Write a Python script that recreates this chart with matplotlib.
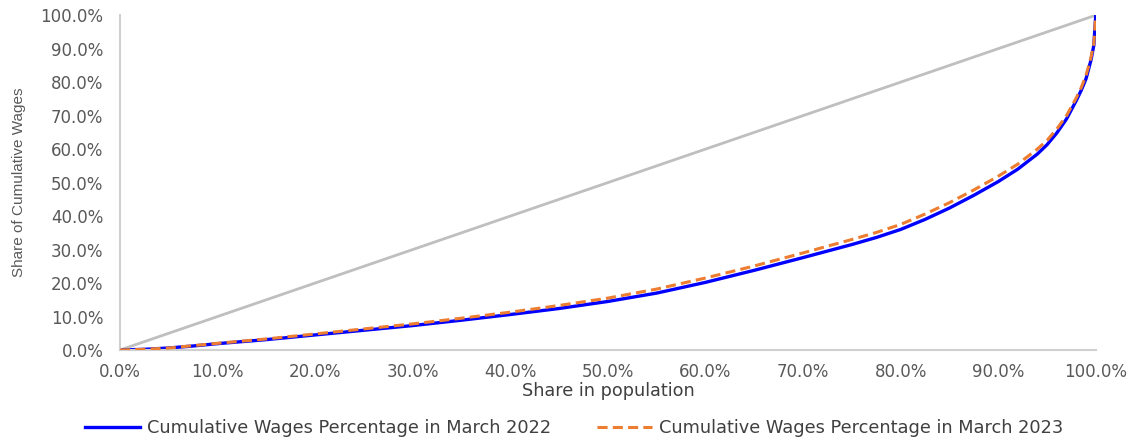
import matplotlib
matplotlib.use("Agg")
import matplotlib.pyplot as plt
from matplotlib.ticker import FuncFormatter, MultipleLocator

# Data (percent)
population_share = [0, 2.5, 5, 7.5, 10, 15, 20, 25, 30, 35, 40, 45, 50, 55, 60, 65, 70, 75, 77.5, 80,
                    82.5, 85, 87.5, 90, 92, 94, 95, 96, 97, 98, 98.5, 99, 99.5, 99.8, 100]
wages_2022 = [0, 0.2, 0.6, 1.2, 1.9, 3.1, 4.5, 5.9, 7.3, 8.9, 10.6, 12.4, 14.5, 17.0, 20.2, 23.8, 27.6, 31.5, 33.6, 36.0,
              39.0, 42.4, 46.2, 50.3, 54.0, 58.5, 61.3, 64.8, 69.0, 74.5, 77.5, 81.0, 86.5, 91.0, 100]
wages_2023 = [0, 0.2, 0.6, 1.3, 2.0, 3.3, 4.8, 6.3, 7.8, 9.5, 11.3, 13.3, 15.5, 18.2, 21.5, 25.1, 29.0, 33.0, 35.1, 37.5,
              40.6, 44.0, 47.8, 51.9, 55.5, 60.0, 62.6, 66.0, 70.0, 75.3, 78.3, 82.0, 87.3, 91.5, 100]
equality_x = [0, 100]
equality_y = [0, 100]

label_2022 = "Cumulative Wages Percentage in March 2022"
label_2023 = "Cumulative Wages Percentage in March 2023"

plt.rcParams['font.family'] = ['DejaVu Sans']

fig = plt.figure(figsize=(11.32, 4.47), dpi=100)
ax = fig.add_axes([0.106, 0.217, 0.862, 0.749])

ax.plot(equality_x, equality_y, color='#BFBFBF', lw=2.0, zorder=1)
l1, = ax.plot(population_share, wages_2022, color='#0000FF', lw=2.4, label=label_2022, zorder=2)
l2, = ax.plot(population_share, wages_2023, color='#ED7D31', lw=2.2, ls=(0, (3.3, 1.7)), label=label_2023, zorder=3)

ax.set_xlim(0, 100)
ax.set_ylim(0, 100)
ax.xaxis.set_major_locator(MultipleLocator(10))
ax.yaxis.set_major_locator(MultipleLocator(10))
fmt = FuncFormatter(lambda v, p: f"{v:.1f}%")
ax.xaxis.set_major_formatter(fmt)
ax.yaxis.set_major_formatter(fmt)
ax.tick_params(axis='both', length=0, labelsize=12, labelcolor='#595959')
ax.tick_params(axis='x', pad=9)
ax.tick_params(axis='y', pad=12)
for s in ['top', 'right']:
    ax.spines[s].set_visible(False)
for s in ['left', 'bottom']:
    ax.spines[s].set_color('#D0D0D0')
    ax.spines[s].set_linewidth(1.5)

ax.set_xlabel("Share in population", fontsize=12.7, color='#404040', labelpad=1)
ax.set_ylabel("Share of Cumulative Wages", fontsize=11, color='#595959',
              family=['Liberation Sans', 'DejaVu Sans'], labelpad=10)

fig.legend(handles=[l1, l2], loc='lower center', bbox_to_anchor=(0.507, -0.014), ncol=2, frameon=False,
           prop={'size': 12.8}, handlelength=3.1, handletextpad=0.38,
           columnspacing=2.6, labelcolor='#404040')

fig.savefig("out.png", dpi=100)
